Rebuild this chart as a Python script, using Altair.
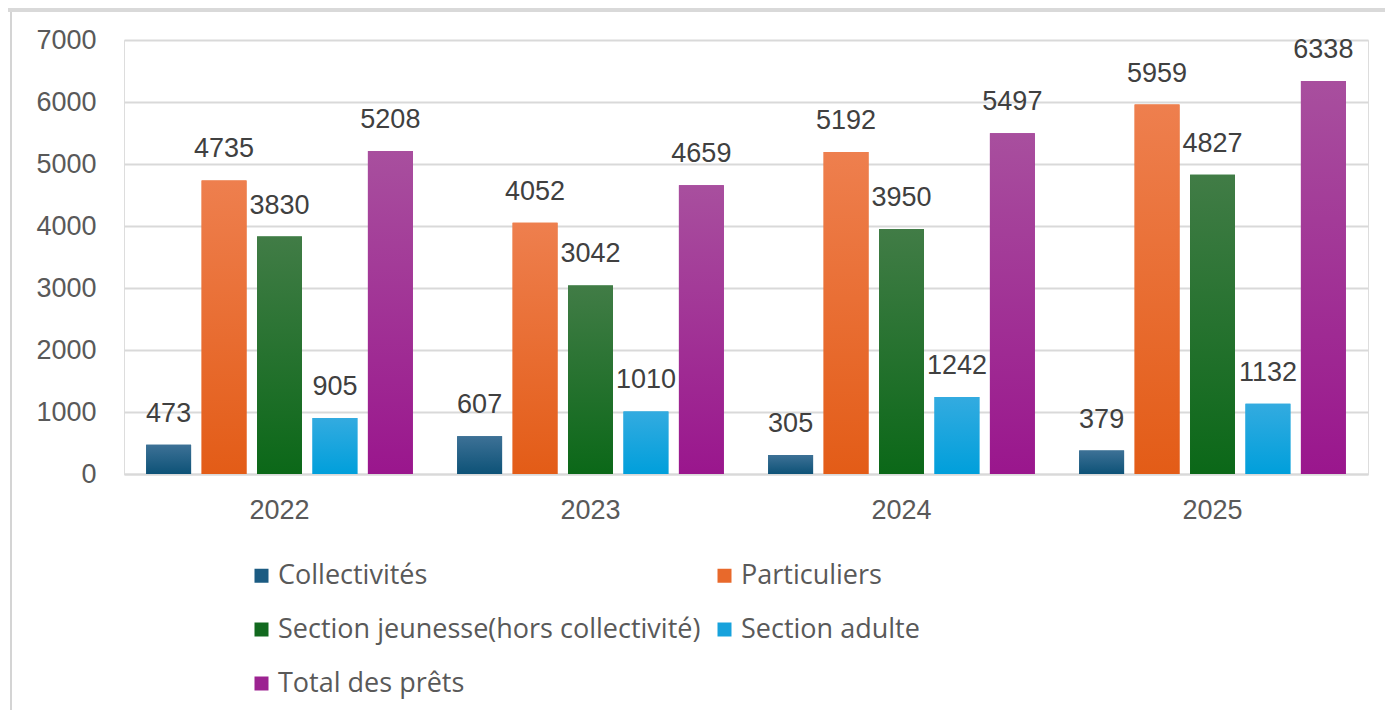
import altair as alt
import pandas as pd

years = ["2022", "2023", "2024", "2025"]
series = [
    "Collectivités",
    "Particuliers",
    "Section jeunesse(hors collectivité)",
    "Section adulte",
    "Total des prêts",
]
collectivites = [473, 607, 305, 379]
particuliers = [4735, 4052, 5192, 5959]
jeunesse = [3830, 3042, 3950, 4827]
adulte = [905, 1010, 1242, 1132]
total = [5208, 4659, 5497, 6338]

swatch = ["#1b5b82", "#e8692b", "#12691f", "#17a2dc", "#9c2391"]
tops = ["#3d7196", "#ee7f4e", "#417c46", "#33abe0", "#a84f9e"]
bottoms = ["#0d5277", "#e35c17", "#0b6818", "#009fdb", "#9a168d"]

values = [collectivites, particuliers, jeunesse, adulte, total]
rows = []
for s, vals in zip(series, values):
    for y, v in zip(years, vals):
        rows.append({"year": y, "series": s, "value": v})
df = pd.DataFrame(rows)

FONT = "Liberation Sans"
LFONT = "Open Sans"
FS = 27
W, H = 1244, 434

x = alt.X("year:N", title=None, sort=years,
          scale=alt.Scale(paddingInner=0, paddingOuter=0),
          axis=alt.Axis(labelFontSize=FS, labelColor="#595959", labelFont=FONT,
                        labelPadding=23, ticks=False, domain=True,
                        domainColor="#d9d9d9", domainWidth=2, labelAngle=0))
xo = alt.XOffset("series:N", sort=series,
                 scale=alt.Scale(domain=series, paddingInner=0.19, paddingOuter=0.4))
y = alt.Y("value:Q", title=None,
          scale=alt.Scale(domain=[0, 7000], nice=False),
          axis=alt.Axis(values=[0, 1000, 2000, 3000, 4000, 5000, 6000, 7000],
                        format="d",
                        labelFontSize=FS, labelColor="#595959", labelFont=FONT,
                        labelPadding=28, ticks=False, domain=False,
                        gridColor="#d9d9d9", gridWidth=2))

base = alt.Chart(df)

bars = base.mark_bar().encode(
    x=x, xOffset=xo, y=y,
    color=alt.Color("series:N", sort=series,
                    scale=alt.Scale(domain=series, range=swatch),
                    legend=alt.Legend(title=None, orient="none", legendX=124, legendY=522,
                                      columns=2, direction="horizontal",
                                      symbolType="square", symbolSize=196,
                                      symbolStrokeWidth=0, symbolOffset=0,
                                      labelFontSize=27, labelColor="#595959",
                                      labelFont=LFONT, labelOffset=3,
                                      rowPadding=26, columnPadding=10,
                                      padding=0, labelLimit=600)),
)

grad_layers = []
for s, t, b in zip(series, tops, bottoms):
    grad_layers.append(
        base.transform_filter(alt.datum.series == s).mark_bar(
            color=alt.Gradient(gradient="linear", x1=0, x2=0, y1=0, y2=1,
                               stops=[alt.GradientStop(offset=0, color=t),
                                      alt.GradientStop(offset=1, color=b)])
        ).encode(x=x, xOffset=xo, y=y)
    )

labels = base.mark_text(dy=-31, fontSize=FS, font=FONT, color="#404040",
                        baseline="middle").encode(
    x=x, xOffset=xo, y=y, text=alt.Text("value:Q", format="d"))

frame_top = alt.Chart(pd.DataFrame({"a": [0]})).mark_rect(color="#d9d9d9").encode(
    x=alt.value(-130), x2=alt.value(W + 30), y=alt.value(-40), y2=alt.value(-28))
frame_left = alt.Chart(pd.DataFrame({"a": [0]})).mark_rule(color="#d4d4d4", strokeWidth=2).encode(
    x=alt.value(-113), y=alt.value(-28), y2=alt.value(H + 250))

chart = alt.layer(bars, *grad_layers, labels, frame_top, frame_left).properties(
    width=W, height=H,
    padding={"left": 116, "top": 32, "right": 17, "bottom": 236},
    autosize=alt.AutoSizeParams(type="none"),
).configure_view(stroke=None).configure(background="white")

chart.save("out.html", embed_options={"renderer": "svg", "actions": False})
